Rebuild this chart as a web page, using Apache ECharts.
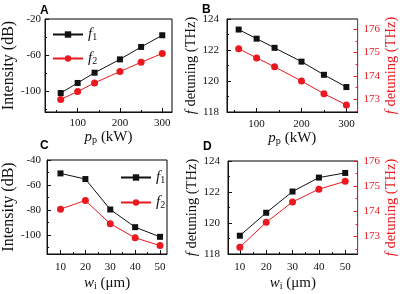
<!DOCTYPE html>
<html>
<head>
<meta charset="utf-8">
<script src="https://cdn.jsdelivr.net/npm/echarts@6/dist/echarts.min.js"></script>
<style>
html,body{margin:0;padding:0;background:#fff;}
#chart{width:400px;height:294px;}
</style>
</head>
<body>
<div id="chart"></div>
<script>
// ---- data ----
// panels A/B : pump power p_p (kW)
const pumpPower = [60, 100, 140, 200, 250, 300];
const intensityF1A = [-101.6, -90.5, -79.2, -64.5, -50.8, -37.9];
const intensityF2A = [-108.6, -100.0, -90.4, -77.9, -67.7, -58.0];
const detuningF1B = [123.32, 122.73, 122.14, 121.25, 120.40, 119.61];
const detuningF2B = [175.16, 174.77, 174.39, 173.78, 173.24, 172.76];

// panels C/D : width w_i (um)
const widthWi = [10, 20, 30, 40, 50];
const intensityF1C = [-50.7, -55.2, -79.5, -93.6, -101.3];
const intensityF2C = [-79.2, -72.3, -90.9, -102.1, -108.3];
const detuningF1D = [119.18, 120.66, 122.03, 122.93, 123.23];
const detuningF2D = [172.57, 173.56, 174.37, 174.88, 175.19];

// tick labels
const ticksPower = [100, 200, 300];
const minorPower = [50, 150, 250];
const ticksIntA = [-100, -60, -20];
const minorIntA = [-120, -80, -40];
const ticksDetLeft = [118, 120, 122, 124];
const minorDetLeft = [119, 121, 123];
const ticksDetRight = [173, 174, 175, 176];
const minorDetRight = [172.5, 173.5, 174.5, 175.5];
const ticksWidth = [10, 20, 30, 40, 50];
const minorWidth = [15, 25, 35, 45];
const ticksIntC = [-100, -80, -60, -40];
const minorIntC = [-110, -90, -70, -50];

const RED = "#e8191f";
const BLACK = "#111";
const SERIF = "Liberation Serif";

const xAxes = [];
const yAxes = [];

function nameStyle(color, size){
    return {
        color: color,
        fontFamily: SERIF,
        fontSize: size,
        rich: {
            i: {fontFamily: SERIF, fontStyle: "italic", fontSize: size, color: color},
            s: {fontFamily: SERIF, fontSize: size * 0.68, color: color, verticalAlign: "bottom"},
            n: {fontFamily: SERIF, fontSize: size, color: color}
        }
    };
}

// major axis + overlaid minor-tick axis, returns index of major axis
function addAxis(list, grid, min, max, majors, minors, cfg){
    const color = cfg.color || BLACK;
    list.push({
        type: "value",
        gridIndex: grid,
        min: min,
        max: max,
        position: cfg.position,
        name: cfg.name,
        nameLocation: "middle",
        nameGap: cfg.nameGap,
        nameRotate: cfg.rotate,
        nameTextStyle: nameStyle(color, cfg.nameSize || 15),
        axisLine: {show: true, onZero: false, lineStyle: {color: color, width: 1}},
        axisTick: {show: true, inside: true, length: 4, customValues: majors, lineStyle: {color: color}},
        axisLabel: {
            customValues: majors,
            margin: cfg.margin,
            formatter: v => "{t|" + v + "}",
            rich: {t: {fontFamily: SERIF, fontSize: 11, color: color}}
        },
        splitLine: {show: false}
    });
    const idx = list.length - 1;
    list.push({
        type: "value",
        gridIndex: grid,
        min: min,
        max: max,
        position: cfg.position,
        axisLine: {show: false, onZero: false},
        axisLabel: {show: false},
        axisTick: {show: true, inside: true, length: 2, customValues: minors, lineStyle: {color: color}},
        splitLine: {show: false}
    });
    return idx;
}

const powerName = "{i|p}{s|p}{n| (kW)}";
const widthName = "{i|w}{s|i}{n| (\u03bcm)}";
const detName = "{i|f}{n| detuning (THz)}";

// panel A
const xA = addAxis(xAxes, 0, 23, 323, ticksPower, minorPower, {position: "bottom", name: powerName, nameGap: 14, margin: 6});
const yA = addAxis(yAxes, 0, -122.5, -20, ticksIntA, minorIntA, {position: "left", name: "Intensity (dB)", nameGap: 22, margin: 4, rotate: 90, nameSize: 16});
// panel B
const xB = addAxis(xAxes, 1, 34, 325, ticksPower, minorPower, {position: "bottom", name: powerName, nameGap: 17, margin: 7});
const yB = addAxis(yAxes, 1, 118, 124, ticksDetLeft, minorDetLeft, {position: "left", name: detName, nameGap: 27, margin: 8, rotate: 90, nameSize: 14.5});
const yB2 = addAxis(yAxes, 1, 172.46, 176.43, ticksDetRight, minorDetRight, {position: "right", name: detName, nameGap: 24, margin: 6, rotate: 90, nameSize: 14.5, color: RED});
// panel C
const xC = addAxis(xAxes, 2, 4.6, 52.8, ticksWidth, minorWidth, {position: "bottom", name: widthName, nameGap: 22, margin: 8});
const yC = addAxis(yAxes, 2, -115, -40, ticksIntC, minorIntC, {position: "left", name: "Intensity (dB)", nameGap: 22, margin: 6, rotate: 90, nameSize: 16});
// panel D
const xD = addAxis(xAxes, 3, 5.5, 54.7, ticksWidth, minorWidth, {position: "bottom", name: widthName, nameGap: 22, margin: 8});
const yD = addAxis(yAxes, 3, 118, 124, ticksDetLeft, minorDetLeft, {position: "left", name: detName, nameGap: 27, margin: 8, rotate: 90, nameSize: 14.5});
const yD2 = addAxis(yAxes, 3, 172.3, 176, ticksDetRight, minorDetRight, {position: "right", name: detName, nameGap: 24, margin: 6, rotate: 90, nameSize: 14.5, color: RED});

function pairs(xs, ys){
    return xs.map((x, i) => [x, ys[i]]);
}

function line(name, xi, yi, xs, ys, isRed){
    return {
        type: "line",
        name: name,
        xAxisIndex: xi,
        yAxisIndex: yi,
        data: pairs(xs, ys),
        symbol: isRed ? "circle" : "rect",
        symbolSize: isRed ? 7 : 6,
        itemStyle: {color: isRed ? RED : BLACK},
        lineStyle: {color: isRed ? RED : BLACK, width: 1},
        z: isRed ? 3 : 4
    };
}

const legendText = {
    formatter: name => "{i|f}{s|" + name.slice(1) + "}",
    textStyle: {
        rich: {
            i: {fontFamily: SERIF, fontStyle: "italic", fontSize: 15, color: BLACK},
            s: {fontFamily: SERIF, fontSize: 10, color: BLACK, verticalAlign: "bottom"}
        }
    }
};

const chart = echarts.init(document.getElementById("chart"));

chart.setOption({
    backgroundColor: "#fff",
    animation: false,
    grid: [
        {left: 37, top: 19, width: 135, height: 93, show: true, borderColor: "#000", borderWidth: 1},
        {left: 227, top: 19, width: 134, height: 93, show: true, borderColor: "#000", borderWidth: 1},
        {left: 37, top: 160, width: 130, height: 94, show: true, borderColor: "#000", borderWidth: 1},
        {left: 228, top: 161, width: 133, height: 93, show: true, borderColor: "#000", borderWidth: 1}
    ],
    xAxis: xAxes,
    yAxis: yAxes,
    legend: [
        Object.assign({data: ["f1", "f2"], orient: "vertical", left: 47, top: 22, itemWidth: 30, itemHeight: 8, itemGap: 9}, legendText),
        Object.assign({data: ["f1", "f2"], orient: "vertical", left: 115, top: 165, itemWidth: 30, itemHeight: 8, itemGap: 10}, legendText)
    ],
    graphic: [
        {type: "text", left: 40, top: 5, style: {text: "A", font: "bold 12px 'Liberation Sans'", fill: "#000"}},
        {type: "text", left: 202, top: 4, style: {text: "B", font: "bold 12px 'Liberation Sans'", fill: "#000"}},
        {type: "text", left: 40, top: 140, style: {text: "C", font: "bold 12px 'Liberation Sans'", fill: "#000"}},
        {type: "text", left: 203, top: 141, style: {text: "D", font: "bold 12px 'Liberation Sans'", fill: "#000"}}
    ],
    series: [
        line("f1", xA, yA, pumpPower, intensityF1A, false),
        line("f2", xA, yA, pumpPower, intensityF2A, true),
        line("f1B", xB, yB, pumpPower, detuningF1B, false),
        line("f2B", xB, yB2, pumpPower, detuningF2B, true),
        line("f1", xC, yC, widthWi, intensityF1C, false),
        line("f2", xC, yC, widthWi, intensityF2C, true),
        line("f1D", xD, yD, widthWi, detuningF1D, false),
        line("f2D", xD, yD2, widthWi, detuningF2D, true)
    ]
});
</script>
</body>
</html>
